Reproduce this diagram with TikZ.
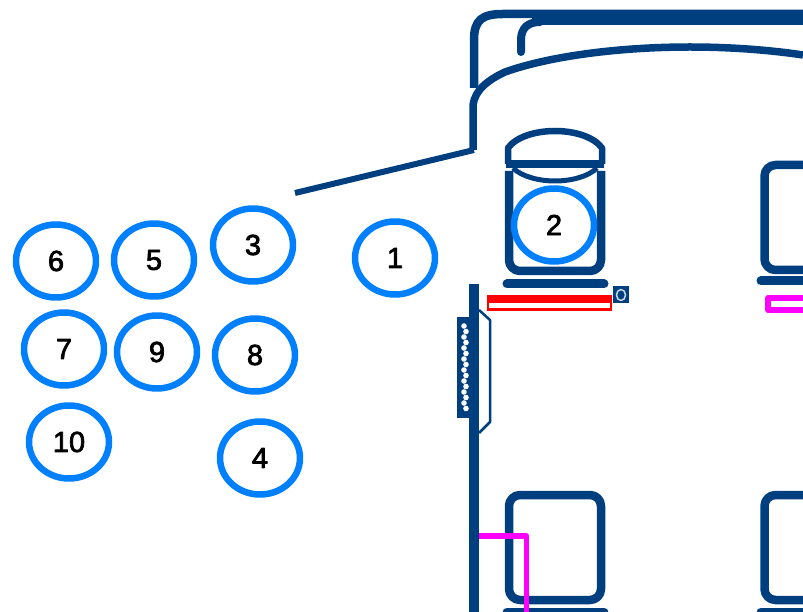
\documentclass[tikz,border=0pt]{standalone}
\usepackage{fontspec}
\setmainfont{Liberation Sans}
\newfontfamily\guestfont[FakeBold=2.5]{Liberation Sans}
\usetikzlibrary{shapes.geometric}
\definecolor{cabin}{HTML}{003F7F}
\definecolor{ring}{HTML}{0080FF}
\definecolor{cable}{HTML}{FF00FF}

\begin{document}
\begin{tikzpicture}[x=1pt, y=-1pt
        , line join=round
        , wall/.style={ draw=cabin, line width=8pt }
        , seatbox/.style={ draw=cabin, line width=8.5pt, rounded corners=11pt }
        , seatbar/.style={ draw=cabin, line width=9pt, line cap=round }
        , guest/.style={ ellipse, draw=ring, line width=6.5pt, minimum width=80pt
            , minimum height=73pt, inner sep=0pt, font=\guestfont\fontsize{29}{29}\selectfont }
        ]

        \useasboundingbox (0,0) rectangle (803,612);
        \clip (0,0) rectangle (803,612);

        % Cabin outline.
        \draw[wall,line width=8.5pt] (474,88) -- (474,40) .. controls (474,20) and (482,14) .. (503,14) -- (803,14);
        \draw[wall] (532,21) -- (803,21);
        \draw[wall,line cap=round] (521,52) -- (521,40) .. controls (521,28) and (528,22) .. (540,22);
        \draw[wall,line width=7.5pt] (473,150) -- (473,105) .. controls (475,90) and (488,80) .. (505,72)
            .. controls (550,56) and (620,47) .. (690,47) .. controls (730,47) and (770,50) .. (803,55);
        \draw[wall,line width=6pt] (474,150) -- (295,193);
        \draw[wall,line width=10pt] (474,284) -- (474,612);

        % Door connector.
        \fill[cabin] (457,317) rectangle (470,418);
        \foreach \y in {0,1,...,15} {
            \fill[white] ({464+mod(\y,2)*2},{326+5.5*\y}) circle (2.8pt);
        }
        \draw[cabin,line width=2.5pt] (479,310) -- (490,320) -- (490,422) -- (479,433);

        % Seats.
        \draw[seatbox] (509,171) -- (509,271) -- (601,271) -- (601,171);
        \draw[cabin,line width=7.5pt] (506,164) -- (604,164);
        \draw[seatbar] (507,284) -- (604,284);
        \draw[seatbox] (764.5,165) rectangle (860,270);
        \draw[seatbar] (761,281) -- (860,281);
        \draw[seatbox] (509,495) rectangle (601,600);
        \draw[seatbar] (507,612) -- (604,612);
        \draw[seatbox] (764.5,495) rectangle (860,600);
        \draw[seatbar] (761,612) -- (860,612);

        % Head rest of the front seat.
        \draw[cabin,line width=6.5pt] (508,164) -- (508,148) .. controls (516,137) and (535,131) .. (555,131)
            .. controls (575,131) and (594,137) .. (602,148) -- (602,164);
        \draw[cabin,line width=5pt] (513,168) .. controls (522,177) and (540,181) .. (555,181)
            .. controls (570,181) and (588,177) .. (597,168);

        % Cables and rails.
        \fill[red] (487,295) rectangle (612,311);
        \fill[white] (489,303) rectangle (610,308);
        \fill[cabin] (613,286) rectangle (629,303);
        \draw[white!80!cabin,line width=1.5pt] (621,295) ellipse (4.5pt and 5.5pt);
        \draw[cable,line width=5.5pt] (768,298) rectangle (860,310);
        \draw[cable,line width=5.5pt] (479,536) -- (526.5,536) -- (526.5,612);

        \foreach \n/\x/\y in {1/395/258,2/554/225,3/253/245,4/260/458,5/154/260,
                6/56/261,7/64/349,8/255/355,9/157/352,10/69/442}
            \node[guest] (g\n) at (\x,\y) {\n};

    \end{tikzpicture}
\end{document}
